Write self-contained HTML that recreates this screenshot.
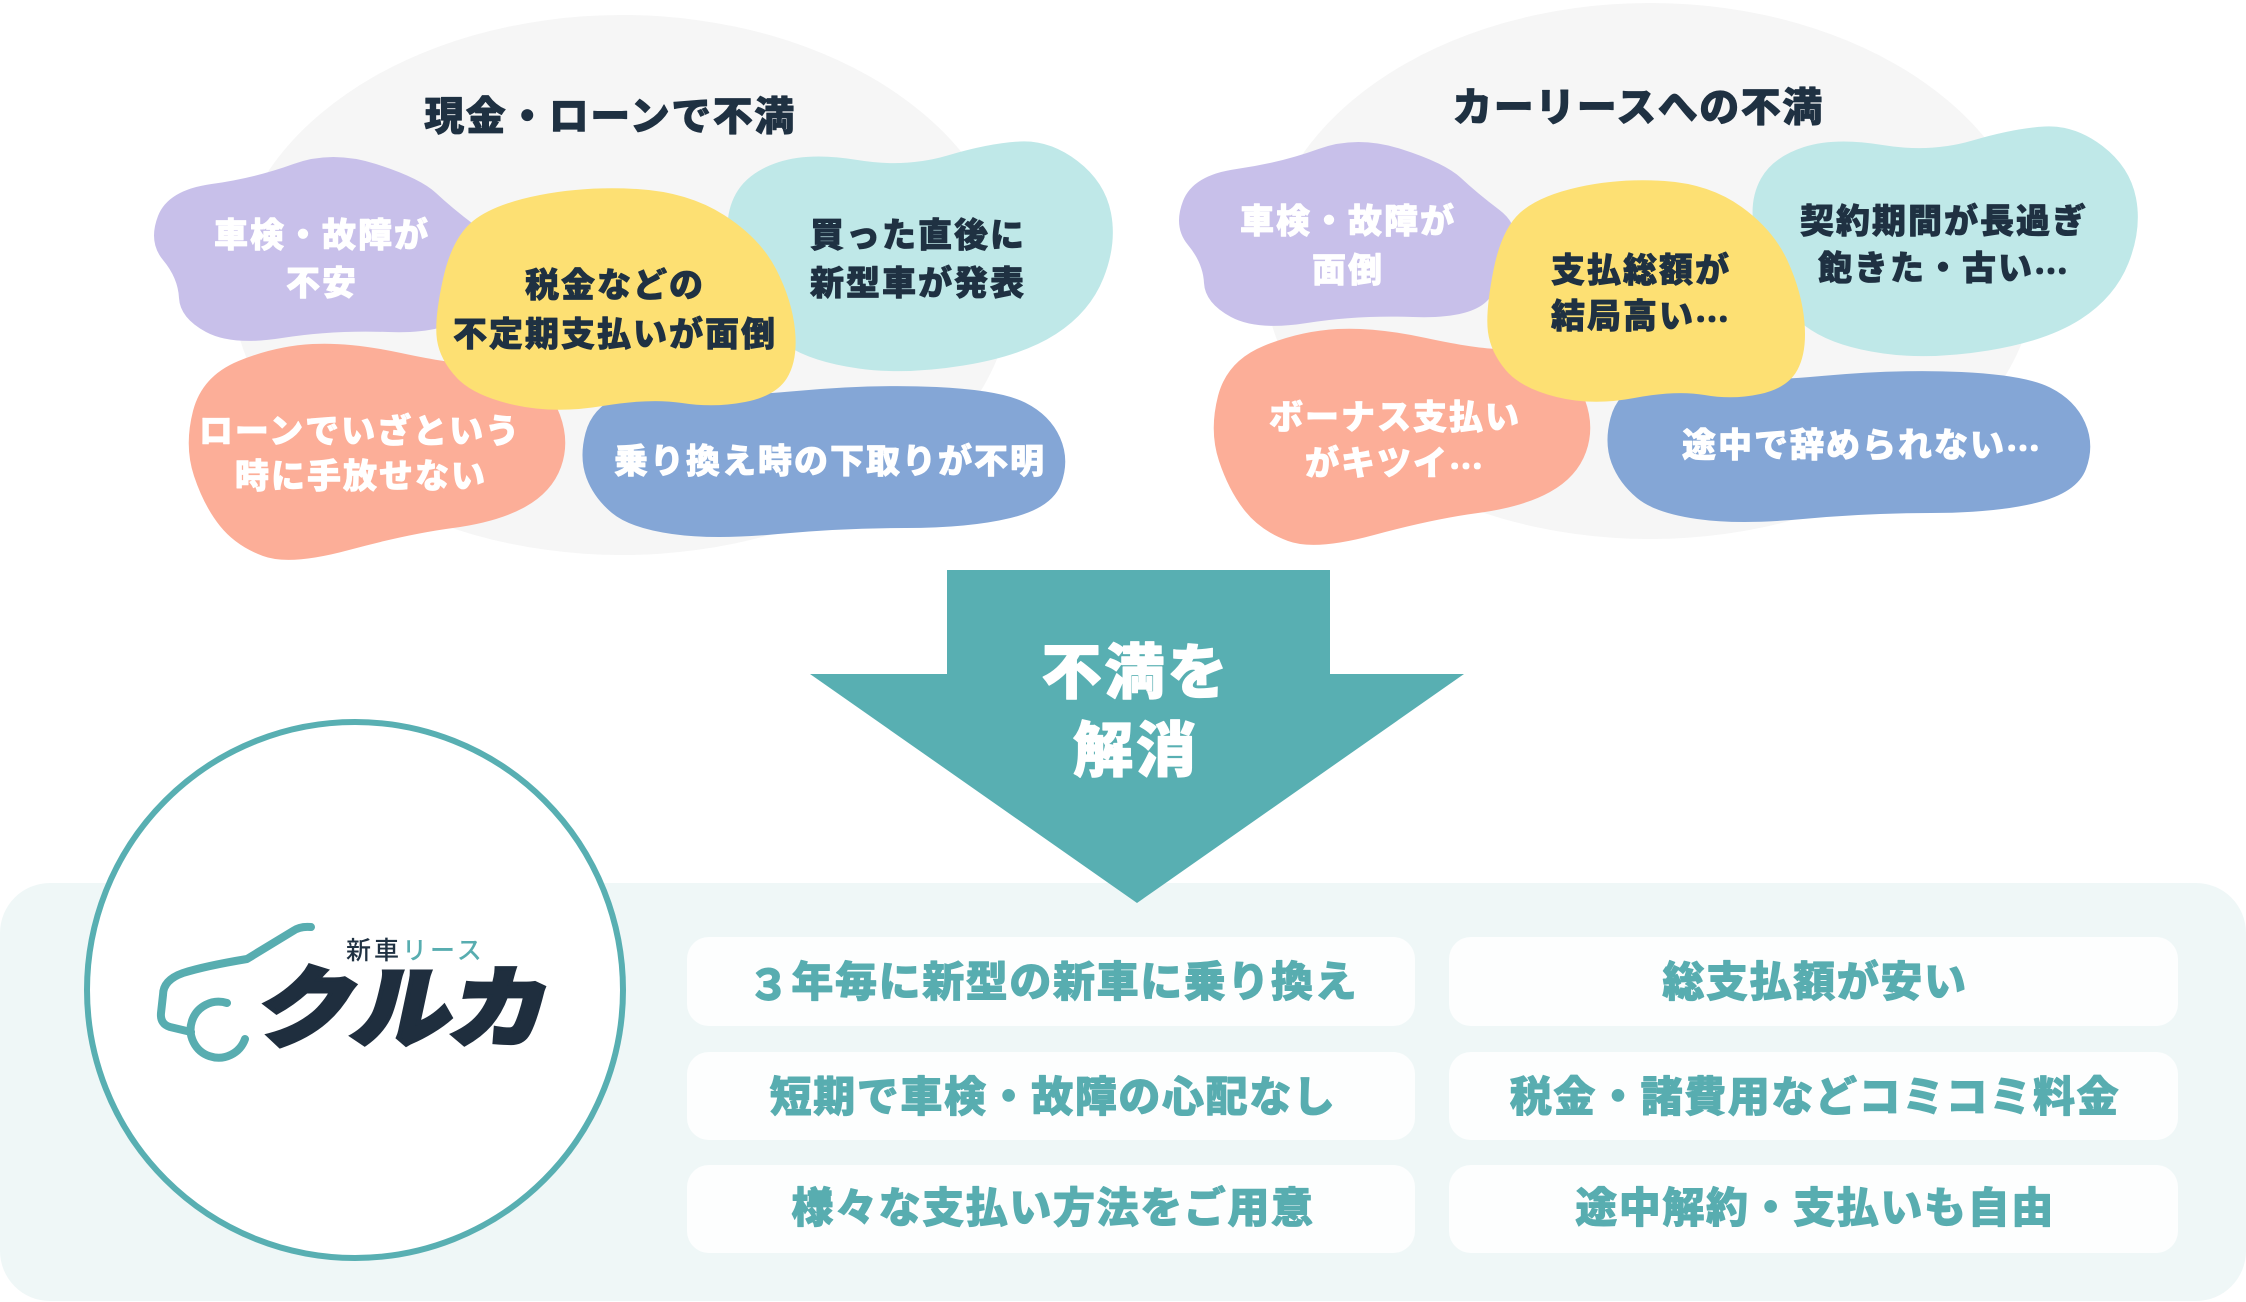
<!DOCTYPE html>
<html>
<head>
<meta charset="utf-8">
<style>
html,body{margin:0;padding:0;background:#ffffff;width:2246px;height:1302px;overflow:hidden}
svg{display:block}
text{font-family:"Liberation Sans","Noto Sans CJK JP",sans-serif;font-weight:900;stroke-linejoin:round}
.jp{font-family:"Noto Sans CJK JP",sans-serif}
.b{font-size:34px;letter-spacing:2px;stroke-width:0.8px}
.t{font-size:40px;letter-spacing:1.5px;fill:#1f3142;stroke:#1f3142;stroke-width:0.8px}
.f{font-size:42px;letter-spacing:1.6px;fill:#58adb0;stroke:#58adb0;stroke-width:0.9px}
.w{fill:#ffffff;stroke:#ffffff}
.d{fill:#1f3142;stroke:#1f3142}
</style>
</head>
<body>
<svg width="2246" height="1302" viewBox="0 0 2246 1302" xmlns="http://www.w3.org/2000/svg">
  <defs>
    <path id="bPurple" d="M163,260 Q148,242 158,216 Q168,190 211.5,184 Q255,178 293.5,164 Q332,150 376,164 Q420,178 436,193 Q452,208 474.5,225 Q497,242 488.5,270 Q480,298 462,316 Q444,334 388,332 Q332,330 282,338 Q232,346 206,332 Q180,318 179,298 Q178,278 163,260 Z"/>
    <path id="bTeal" d="M729,243.5 Q724,215 736,193.5 Q748,172 779,162 Q810,152 857.5,160 Q905,168 947.5,155.5 Q990,143 1020,141.5 Q1050,140 1077.5,161 Q1105,182 1111,213 Q1117,244 1103.5,278 Q1090,312 1056,334 Q1022,356 963.5,365.5 Q905,375 858.5,368.5 Q812,362 786,345 Q760,328 747,300 Q734,272 729,243.5 Z"/>
    <path id="bSalmon" d="M194,476 Q184,446 193,411 Q202,376 238.5,361 Q275,346 312.5,344 Q350,342 401,353 Q452,364 476,364 Q500,364 525,376 Q550,388 560,415 Q570,442 561,467 Q552,492 525,507 Q498,522 453,528 Q408,534 349,550 Q290,566 263,556 Q236,546 220,526 Q204,506 194,476 Z"/>
    <path id="bBlue" d="M586.5,478 Q579,458 585.5,433 Q592,408 618,396.5 Q644,385 682,391.5 Q720,398 796.5,391 Q873,384 936.5,387 Q1000,390 1025,402.5 Q1050,415 1060,437.5 Q1070,460 1061,484 Q1052,508 1010.5,518 Q969,528 905.5,528 Q842,528 778,534 Q714,540 672,534 Q630,528 612,513 Q594,498 586.5,478 Z"/>
    <path id="bYellow" d="M437,340 Q434,320 443,279 Q452,238 473,221 Q494,204 540,195 Q586,186 637,189 Q688,192 724,215 Q760,238 776,269 Q792,300 795,330 Q798,360 787,378 Q776,396 745,402 Q714,408 682,403 Q650,398 602.5,406 Q555,414 514.5,405 Q474,396 457,378 Q440,360 437,340 Z"/>
  </defs>

  <!-- background ellipses -->
  <ellipse cx="622" cy="285" rx="390" ry="270" fill="#f6f6f6"/>
  <ellipse cx="1650" cy="271" rx="386" ry="268" fill="#f6f6f6"/>

  <!-- left cluster blobs -->
  <use href="#bPurple" fill="#c8c0ea"/>
  <use href="#bTeal" fill="#bfe8e8"/>
  <use href="#bSalmon" fill="#fcae98"/>
  <use href="#bBlue" fill="#84a6d6"/>
  <use href="#bYellow" fill="#fde073"/>

  <!-- right cluster blobs -->
  <g transform="translate(1025,-15)">
    <use href="#bPurple" fill="#c8c0ea"/>
    <use href="#bTeal" fill="#bfe8e8"/>
    <use href="#bSalmon" fill="#fcae98"/>
    <use href="#bBlue" fill="#84a6d6"/>
  </g>
  <g transform="translate(1644,-8) scale(0.884,1) translate(-613.5,0)">
    <use href="#bYellow" fill="#fde073"/>
  </g>

  <!-- left cluster text -->
  <text class="t" x="610" y="117" text-anchor="middle" dominant-baseline="central">現金・ローンで不満</text>
  <text class="b w" x="322" y="236" text-anchor="middle" dominant-baseline="central">車検・故障が</text>
  <text class="b w" x="322" y="284" text-anchor="middle" dominant-baseline="central">不安</text>
  <text class="b d" x="918" y="236" text-anchor="middle" dominant-baseline="central">買った直後に</text>
  <text class="b d" x="918" y="284" text-anchor="middle" dominant-baseline="central">新型車が発表</text>
  <text class="b w" x="360" y="432" text-anchor="middle" dominant-baseline="central">ローンでいざという</text>
  <text class="b w" x="361" y="477" text-anchor="middle" dominant-baseline="central">時に手放せない</text>
  <text class="b w" x="830" y="462" text-anchor="middle" dominant-baseline="central">乗り換え時の下取りが不明</text>
  <text class="b d" x="615" y="286" text-anchor="middle" dominant-baseline="central">税金などの</text>
  <text class="b d" x="615" y="335" text-anchor="middle" dominant-baseline="central">不定期支払いが面倒</text>

  <!-- right cluster text -->
  <text class="t" x="1638" y="108" text-anchor="middle" dominant-baseline="central">カーリースへの不満</text>
  <text class="b w" x="1348" y="222" text-anchor="middle" dominant-baseline="central">車検・故障が</text>
  <text class="b w" x="1348" y="271" text-anchor="middle" dominant-baseline="central">面倒</text>
  <text class="b d" x="1641" y="271" text-anchor="middle" dominant-baseline="central">支払総額が</text>
  <text class="b d" x="1641" y="317" text-anchor="middle" dominant-baseline="central">結局高い<tspan class="jp">…</tspan></text>
  <text class="b d" x="1944" y="222" text-anchor="middle" dominant-baseline="central">契約期間が長過ぎ</text>
  <text class="b d" x="1944" y="269" text-anchor="middle" dominant-baseline="central">飽きた・古い<tspan class="jp">…</tspan></text>
  <text class="b w" x="1395" y="418" text-anchor="middle" dominant-baseline="central">ボーナス支払い</text>
  <text class="b w" x="1395" y="464" text-anchor="middle" dominant-baseline="central">がキツイ<tspan class="jp">…</tspan></text>
  <text class="b w" x="1862" y="446" text-anchor="middle" dominant-baseline="central">途中で辞められない<tspan class="jp">…</tspan></text>

  <!-- bottom panel -->
  <rect x="0" y="883" width="2246" height="418" rx="50" ry="50" fill="#eff7f7"/>

  <!-- arrow -->
  <polygon points="947,570 1330,570 1330,674 1464,674 1137,903 810,674 947,674" fill="#58afb2"/>
  <text x="1136" y="673" text-anchor="middle" dominant-baseline="central" fill="#ffffff" stroke="#ffffff" stroke-width="1.2" style="font-size:60px;letter-spacing:3px">不満を</text>
  <text x="1136" y="751" text-anchor="middle" dominant-baseline="central" fill="#ffffff" stroke="#ffffff" stroke-width="1.2" style="font-size:60px;letter-spacing:3px">解消</text>

  <!-- feature boxes -->
  <rect x="687" y="937" width="728" height="89" rx="22" fill="#fdfefe"/>
  <rect x="687" y="1052" width="728" height="88" rx="22" fill="#fdfefe"/>
  <rect x="687" y="1165" width="728" height="88" rx="22" fill="#fdfefe"/>
  <rect x="1449" y="937" width="729" height="89" rx="22" fill="#fdfefe"/>
  <rect x="1449" y="1052" width="729" height="88" rx="22" fill="#fdfefe"/>
  <rect x="1449" y="1165" width="729" height="88" rx="22" fill="#fdfefe"/>

  <text class="f" x="1053" y="982" text-anchor="middle" dominant-baseline="central"><tspan class="jp">３</tspan>年毎に新型の新車に乗り換え</text>
  <text class="f" x="1053" y="1097" text-anchor="middle" dominant-baseline="central">短期で車検・故障の心配なし</text>
  <text class="f" x="1053" y="1208" text-anchor="middle" dominant-baseline="central">様々な支払い方法をご用意</text>
  <text class="f" x="1815" y="982" text-anchor="middle" dominant-baseline="central">総支払額が安い</text>
  <text class="f" x="1815" y="1097" text-anchor="middle" dominant-baseline="central">税金・諸費用などコミコミ料金</text>
  <text class="f" x="1815" y="1208" text-anchor="middle" dominant-baseline="central">途中解約・支払いも自由</text>

  <!-- logo circle -->
  <circle cx="355" cy="990" r="268" fill="#ffffff" stroke="#58afb2" stroke-width="6"/>

  <!-- car outline -->
  <path d="M311,927 Q300,926 293,931 L247,959 Q205,966 183,973 Q163,980 163,995 L161,1013 Q160,1024 170,1027 L191,1032" fill="none" stroke="#58adb0" stroke-width="8" stroke-linecap="round" stroke-linejoin="round"/>
  <path d="M227,1003 A28,28 0 1 0 245,1039" fill="none" stroke="#58adb0" stroke-width="8" stroke-linecap="round"/>

  <text x="346" y="951" dominant-baseline="central" style="font-size:25px;letter-spacing:3px;font-weight:500;stroke:none"><tspan fill="#1f3142">新車</tspan><tspan fill="#58adb0">リース</tspan></text>
  <g transform="translate(405,1009) skewX(-12)">
    <text x="-146" y="0" dominant-baseline="central" textLength="292" lengthAdjust="spacingAndGlyphs" fill="#1f2e3e" stroke="#1f2e3e" stroke-width="4" style="font-size:88px;font-weight:900;stroke-linejoin:miter">クルカ</text>
  </g>
</svg>
</body>
</html>
